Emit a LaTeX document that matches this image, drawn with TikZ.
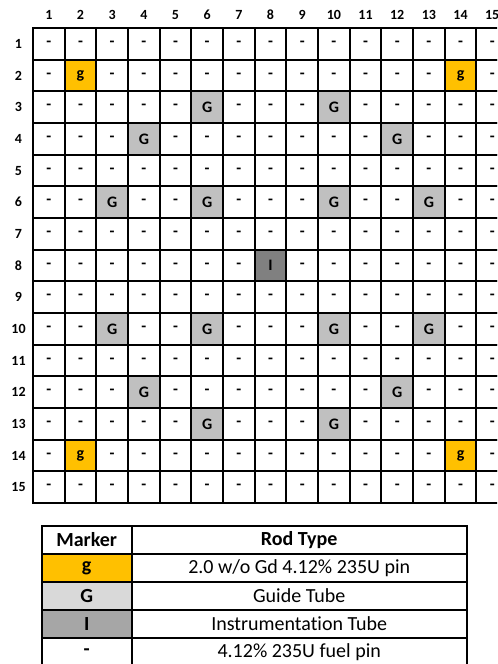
\documentclass[tikz,border=0pt]{standalone}
\usepackage{fontspec}
\setmainfont{Carlito}[Ligatures=NoCommon]
\usepackage{xcolor}
\usetikzlibrary{positioning}

\definecolor{gdorange}{HTML}{FFC000}
\definecolor{guidegray}{HTML}{C0C0C0}
\definecolor{instgray}{HTML}{808080}
\definecolor{keyguide}{HTML}{D9D9D9}
\definecolor{keyinst}{HTML}{A6A6A6}

\begin{document}
\begin{tikzpicture}[x=0.75pt, y=-0.75pt,
        rod/.style={rectangle, draw=black, line width=1.4pt, minimum size=23.75pt, inner sep=0pt, font=\fontsize{12}{13}\selectfont\bfseries},
        rod -/.style={rod, fill=white},
        rod g/.style={rod, fill=gdorange},
        rod G/.style={rod, fill=guidegray},
        rod I/.style={rod, fill=instgray},
        axislbl/.style={inner sep=0pt, font=\fontsize{10.5}{12}\selectfont\bfseries},
        keymark/.style={rectangle, draw=black, line width=1.4pt, outer sep=0pt, minimum width=67.5pt, minimum height=21pt, inner sep=0pt, font=\fontsize{15}{17}\selectfont},
        keytype/.style={keymark, minimum width=251.25pt}
    ]

    \clip (0,0) rectangle (497,664);

    % === Pin map (15 x 15) ===
    \foreach \row [count=\r] in {
        {-,-,-,-,-,-,-,-,-,-,-,-,-,-,-},
        {-,g,-,-,-,-,-,-,-,-,-,-,-,g,-},
        {-,-,-,-,-,G,-,-,-,G,-,-,-,-,-},
        {-,-,-,G,-,-,-,-,-,-,-,G,-,-,-},
        {-,-,-,-,-,-,-,-,-,-,-,-,-,-,-},
        {-,-,G,-,-,G,-,-,-,G,-,-,G,-,-},
        {-,-,-,-,-,-,-,-,-,-,-,-,-,-,-},
        {-,-,-,-,-,-,-,I,-,-,-,-,-,-,-},
        {-,-,-,-,-,-,-,-,-,-,-,-,-,-,-},
        {-,-,G,-,-,G,-,-,-,G,-,-,G,-,-},
        {-,-,-,-,-,-,-,-,-,-,-,-,-,-,-},
        {-,-,-,G,-,-,-,-,-,-,-,G,-,-,-},
        {-,-,-,-,-,G,-,-,-,G,-,-,-,-,-},
        {-,g,-,-,-,-,-,-,-,-,-,-,-,g,-},
        {-,-,-,-,-,-,-,-,-,-,-,-,-,-,-}} {
        \foreach \m [count=\c] in \row {
            \node[rod \m] (p-\r-\c) at (17.17+31.67*\c, 12.17+31.67*\r) {\m};
        }
    }

    % Column and row numbers
    \foreach \c in {1,...,15}
        \node[axislbl] (col-\c) at (17.17+31.67*\c, 15) {\c};
    \foreach \r in {1,...,15}
        \node[axislbl] (row-\r) at (18.5, 12.17+31.67*\r) {\r};

    % === Key ===
    \node[keymark, font=\fontsize{15}{17}\selectfont\bfseries] (kh1) at (86.7, 540) {Marker};
    \node[keytype, font=\fontsize{15}{17}\selectfont\bfseries, right=0pt of kh1] (kh2) {Rod Type};

    \node[keymark, fill=gdorange, font=\fontsize{15}{17}\selectfont\bfseries, below=0pt of kh1] (km1) {g};
    \node[keytype, right=0pt of km1] (kt1) {2.0 w/o Gd 4.12\% 235U pin};

    \node[keymark, fill=keyguide, font=\fontsize{15}{17}\selectfont\bfseries, below=0pt of km1] (km2) {G};
    \node[keytype, right=0pt of km2] (kt2) {Guide Tube};

    \node[keymark, fill=keyinst, font=\fontsize{15}{17}\selectfont\bfseries, below=0pt of km2] (km3) {I};
    \node[keytype, right=0pt of km3] (kt3) {Instrumentation Tube};

    \node[keymark, font=\fontsize{15}{17}\selectfont\bfseries, below=0pt of km3] (km4) {-};
    \node[keytype, right=0pt of km4] (kt4) {4.12\% 235U fuel pin};

\end{tikzpicture}
\end{document}
